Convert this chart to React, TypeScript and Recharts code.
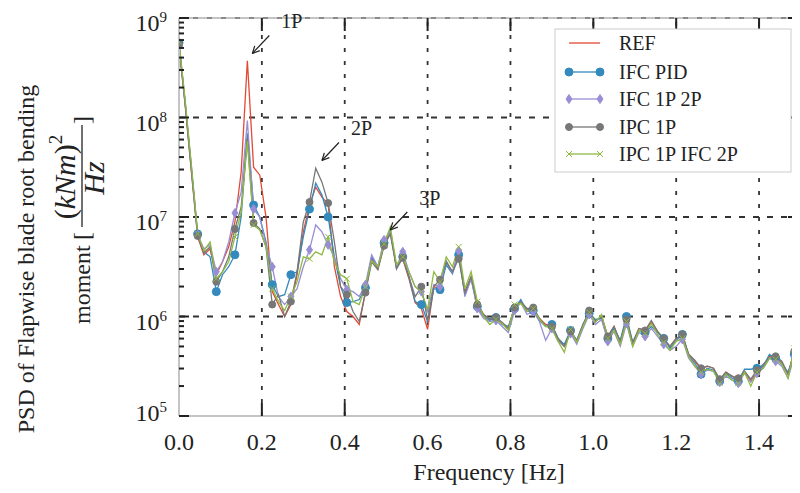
import { LineChart, Line, XAxis, YAxis, ReferenceLine, ReferenceDot } from 'recharts';

// frequency grid [Hz]
const freq = [
    0, 0.015, 0.03, 0.045, 0.06, 0.075, 0.09, 0.105, 0.12, 0.135,
    0.15, 0.165, 0.18, 0.195, 0.21, 0.225, 0.24, 0.255, 0.27, 0.285,
    0.3, 0.315, 0.33, 0.345, 0.36, 0.375, 0.39, 0.405, 0.42, 0.435,
    0.45, 0.465, 0.48, 0.495, 0.51, 0.525, 0.54, 0.555, 0.57, 0.585,
    0.6, 0.615, 0.63, 0.645, 0.66, 0.675, 0.69, 0.705, 0.72, 0.735,
    0.75, 0.765, 0.78, 0.795, 0.81, 0.825, 0.84, 0.855, 0.87, 0.885,
    0.9, 0.915, 0.93, 0.945, 0.96, 0.975, 0.99, 1.005, 1.02, 1.035,
    1.05, 1.065, 1.08, 1.095, 1.11, 1.125, 1.14, 1.155, 1.17, 1.185,
    1.2, 1.215, 1.23, 1.245, 1.26, 1.275, 1.29, 1.305, 1.32, 1.335,
    1.35, 1.365, 1.38, 1.395, 1.41, 1.425, 1.44, 1.455, 1.47, 1.485,
    1.5,
];

// PSD values, as log10 of (kNm)^2/Hz
const refLog = [
    8.72, 8.12, 7.45, 6.8, 6.62, 6.68, 6.42, 6.55, 6.7, 6.95,
    7.45, 8.57, 7.5, 7.42, 7.0, 6.25, 6.12, 6.0, 6.12, 6.42,
    6.85, 7.12, 7.3, 7.2, 7.13, 6.5, 6.2, 6.05, 6.0, 5.92,
    6.25, 6.58, 6.48, 6.72, 6.85, 6.5, 6.58, 6.38, 6.14, 6.08,
    5.87, 6.3, 6.28, 6.55, 6.45, 6.64, 6.25, 6.4, 6.14, 6.02,
    5.97, 5.98, 5.94, 5.88, 6.1, 6.15, 6.07, 6.08, 5.98, 5.92,
    5.9, 5.77, 5.7, 5.85, 5.75, 5.9, 6.05, 5.95, 6.0, 5.8,
    5.9, 5.74, 5.97, 5.72, 5.88, 5.86, 5.94, 5.85, 5.77, 5.7,
    5.78, 5.8, 5.62, 5.55, 5.47, 5.5, 5.48, 5.36, 5.44, 5.4,
    5.36, 5.45, 5.35, 5.45, 5.5, 5.6, 5.6, 5.54, 5.42, 5.66,
    5.55,
];
const ifcPidLog = [
    8.75, 8.15, 7.5, 6.83, 6.65, 6.6, 6.25, 6.42, 6.5, 6.62,
    7.0, 7.84, 7.12, 7.0, 6.75, 6.32, 6.2, 6.22, 6.42, 6.45,
    6.8, 7.08, 7.34, 7.22, 7.0, 6.6, 6.3, 6.14, 6.15, 6.17,
    6.29, 6.6, 6.5, 6.74, 6.88, 6.48, 6.6, 6.4, 6.15, 6.12,
    5.95, 6.28, 6.27, 6.52, 6.43, 6.62, 6.22, 6.38, 6.1, 6.0,
    5.96, 5.99, 5.92, 5.9, 6.08, 6.17, 6.05, 6.06, 5.96, 5.9,
    5.92, 5.78, 5.72, 5.86, 5.76, 5.92, 6.03, 5.97, 5.98, 5.78,
    5.88, 5.76, 6.0, 5.74, 5.86, 5.84, 5.9, 5.84, 5.78, 5.68,
    5.76, 5.82, 5.6, 5.53, 5.42, 5.48, 5.46, 5.35, 5.43, 5.38,
    5.35, 5.47, 5.47, 5.48, 5.5, 5.62, 5.58, 5.52, 5.44, 5.62,
    5.53,
];
const ifc1p2pLog = [
    8.74, 8.14, 7.48, 6.82, 6.68, 6.72, 6.45, 6.55, 6.75, 7.04,
    7.25, 7.97, 7.08, 7.0, 6.72, 6.5, 6.2, 6.12, 6.2, 6.28,
    6.5, 6.67, 6.92, 6.85, 6.72, 6.6, 6.38, 6.27, 6.25, 6.2,
    6.32, 6.62, 6.5, 6.77, 6.85, 6.5, 6.65, 6.45, 6.3, 6.25,
    6.05, 6.32, 6.3, 6.56, 6.44, 6.66, 6.2, 6.38, 6.08, 5.98,
    5.95, 5.96, 5.9, 5.84, 6.06, 6.14, 6.02, 6.05, 5.95, 5.76,
    5.88, 5.75, 5.7, 5.83, 5.72, 5.88, 6.02, 5.92, 5.97, 5.75,
    5.85, 5.7, 5.93, 5.7, 5.84, 5.8, 5.88, 5.8, 5.72, 5.66,
    5.7, 5.77, 5.58, 5.5, 5.42, 5.46, 5.45, 5.34, 5.4, 5.36,
    5.33, 5.43, 5.34, 5.43, 5.48, 5.58, 5.55, 5.5, 5.38, 5.6,
    5.5,
];
const ipc1pLog = [
    8.73, 8.13, 7.47, 6.81, 6.64, 6.7, 6.35, 6.45, 6.6, 6.88,
    7.1, 7.79, 6.94, 6.88, 6.7, 6.12, 6.22, 6.0, 6.15, 6.45,
    6.95, 7.15, 7.49, 7.35, 7.14, 6.75, 6.3, 6.22, 6.05, 5.95,
    6.24, 6.55, 6.47, 6.71, 6.83, 6.48, 6.59, 6.4, 6.2, 6.3,
    5.96, 6.3, 6.37, 6.55, 6.45, 6.58, 6.24, 6.4, 6.12, 6.02,
    5.98, 5.99, 5.94, 5.88, 6.09, 6.15, 6.08, 6.09, 5.98, 5.9,
    5.9, 5.78, 5.7, 5.85, 5.76, 5.92, 6.06, 5.95, 6.0, 5.8,
    5.9, 5.75, 5.97, 5.74, 5.88, 5.86, 5.96, 5.85, 5.78, 5.7,
    5.78, 5.82, 5.62, 5.56, 5.48, 5.5, 5.48, 5.37, 5.44, 5.4,
    5.38, 5.45, 5.37, 5.46, 5.52, 5.58, 5.6, 5.55, 5.42, 5.65,
    5.55,
];
const ipc1pIfc2pLog = [
    8.76, 8.17, 7.52, 6.83, 6.66, 6.75, 6.38, 6.45, 6.55, 6.8,
    7.05, 7.76, 6.92, 6.87, 6.7, 6.28, 6.15, 6.06, 6.2, 6.35,
    6.6, 6.58, 6.65, 6.62, 6.8, 6.55, 6.42, 6.38, 6.15, 6.12,
    6.3, 6.56, 6.5, 6.73, 6.9, 6.52, 6.6, 6.45, 6.3, 6.25,
    6.07, 6.45, 6.35, 6.6, 6.5, 6.7, 6.28, 6.45, 6.15, 6.0,
    5.92, 5.97, 5.93, 5.86, 6.12, 6.13, 6.05, 6.08, 5.97, 5.9,
    5.88, 5.75, 5.64, 5.87, 5.74, 5.9, 6.04, 5.94, 6.02, 5.78,
    5.86, 5.72, 5.95, 5.7, 5.86, 5.83, 5.93, 5.82, 5.74, 5.66,
    5.75, 5.78, 5.6, 5.5, 5.44, 5.47, 5.45, 5.33, 5.42, 5.36,
    5.33, 5.44, 5.3, 5.44, 5.48, 5.58, 5.57, 5.52, 5.38, 5.68,
    5.52,
];

const seriesKeys = ['ref', 'pid', 'p12', 'ipc', 'ipcifc'];
const seriesNames = ['REF', 'IFC PID', 'IFC 1P 2P', 'IPC 1P', 'IPC 1P IFC 2P'];
const seriesColors = ['#E24A33', '#348ABD', '#988ED5', '#777777', '#8EBA42'];
const seriesMarkers = ['none', 'circle', 'diamond', 'smallcircle', 'x'];

const xTicks = [0, 0.2, 0.4, 0.6, 0.8, 1.0, 1.2, 1.4];
const decades = [1e5, 1e6, 1e7, 1e8, 1e9];
const decadeExp = [5, 6, 7, 8, 9];
const minorSteps = [2, 3, 4, 5, 6, 7, 8, 9];

const peakLabels = ['1P', '2P', '3P'];
const peakFreq = [0.177, 0.345, 0.51];
const peakValue = [4.4e8, 3.7e7, 7.4e6];

const W = 792;
const H = 485;
const PLOT_LEFT = 171;
const PLOT_TOP = 10;
const PLOT_RIGHT = 790;
const PLOT_BOTTOM = 408;
const X_MAX = 1.494;
const FONT = "'Liberation Serif', 'DejaVu Serif', serif";
const INK = '#222222';

const yTicks = [
    ...decades,
    ...decades.slice(0, 4).flatMap((d) => minorSteps.map((m) => m * d)),
];

const chartData = freq.map((f, i) => ({
    f,
    ref: Math.pow(10, refLog[i]),
    pid: Math.pow(10, ifcPidLog[i]),
    p12: Math.pow(10, ifc1p2pLog[i]),
    ipc: Math.pow(10, ipc1pLog[i]),
    ipcifc: Math.pow(10, ipc1pIfc2pLog[i]),
}));

function Marker({ kind, x, y, color }: { kind: string; x: number; y: number; color: string }) {
    if (kind === 'circle') return <circle cx={x} cy={y} r={4} fill={color} stroke={color} />;
    if (kind === 'smallcircle') return <circle cx={x} cy={y} r={3.5} fill={color} stroke={color} />;
    if (kind === 'diamond')
        return (
            <polygon
                points={`${x},${y - 4.5} ${x + 3},${y} ${x},${y + 4.5} ${x - 3},${y}`}
                fill={color}
                stroke={color}
            />
        );
    if (kind === 'x')
        return (
            <g stroke={color} strokeWidth={1}>
                <line x1={x - 3} y1={y - 3} x2={x + 3} y2={y + 3} />
                <line x1={x - 3} y1={y + 3} x2={x + 3} y2={y - 3} />
            </g>
        );
    return null;
}

const makeDot = (kind: string, color: string, name: string) => (props: any) => {
    const { cx, cy, index } = props;
    if (kind === 'none' || index % 3 !== 0 || cx == null || cy == null) {
        return <g key={`${name}-${index}`} />;
    }
    return (
        <g key={`${name}-${index}`}>
            <Marker kind={kind} x={cx} y={cy} color={color} />
        </g>
    );
};

const XTick = (props: any) => {
    const { x, payload } = props;
    const v = payload.value;
    return (
        <g>
            {v > 0 && (
                <g stroke={INK} strokeWidth={2}>
                    <line x1={x} y1={PLOT_BOTTOM} x2={x} y2={PLOT_BOTTOM - 13} />
                    <line x1={x} y1={PLOT_TOP} x2={x} y2={PLOT_TOP + 13} />
                </g>
            )}
            <text x={x} y={442} textAnchor="middle" fontSize={24} fontFamily={FONT} fill={INK}>
                {v.toFixed(1)}
            </text>
        </g>
    );
};

const YTick = (props: any) => {
    const { y, payload } = props;
    const v = payload.value;
    const k = decades.findIndex((d) => Math.abs(d - v) / d < 1e-6);
    const major = k >= 0;
    const len = major ? 10 : 5;
    return (
        <g>
            <g stroke={INK} strokeWidth={2}>
                <line x1={PLOT_LEFT} y1={y} x2={PLOT_LEFT + len} y2={y} />
                <line x1={PLOT_RIGHT - len} y1={y} x2={PLOT_RIGHT} y2={y} />
            </g>
            {major && (
                <text
                    x={159}
                    y={y + (k === 0 ? 5 : 13)}
                    textAnchor="end"
                    fontSize={24}
                    fontFamily={FONT}
                    fill={INK}
                >
                    10
                    <tspan fontSize={15} dy={-9}>
                        {decadeExp[k]}
                    </tspan>
                </text>
            )}
        </g>
    );
};

const PeakArrow = ({ cx, cy, label }: { cx: number; cy: number; label: string }) => {
    const tx = cx + 17;
    const ty = cy - 18;
    const ang = Math.atan2(ty - cy, tx - cx);
    const head = 8;
    const spread = 0.45;
    return (
        <g>
            <g stroke={INK} strokeWidth={1.2} fill="none">
                <line x1={tx} y1={ty} x2={cx} y2={cy} />
                <line
                    x1={cx}
                    y1={cy}
                    x2={cx + head * Math.cos(ang + spread)}
                    y2={cy + head * Math.sin(ang + spread)}
                />
                <line
                    x1={cx}
                    y1={cy}
                    x2={cx + head * Math.cos(ang - spread)}
                    y2={cy + head * Math.sin(ang - spread)}
                />
            </g>
            <text x={cx + 29} y={cy - 25} fontSize={20} fontFamily={FONT} fill={INK}>
                {label}
            </text>
        </g>
    );
};

const legendRows = [35, 64, 91, 119, 146];

export default function App() {
    return (
        <div style={{ position: 'relative', width: W, height: H, fontFamily: FONT }}>
            <LineChart
                width={W}
                height={H}
                data={chartData}
                margin={{ top: PLOT_TOP, right: W - PLOT_RIGHT, left: 0, bottom: 0 }}
            >
                {/* grid */}
                {xTicks.slice(1).map((t) => (
                    <ReferenceLine
                        key={`gx${t}`}
                        x={t}
                        stroke="#333"
                        strokeWidth={1.8}
                        strokeDasharray="4 9"
                        ifOverflow="visible"
                    />
                ))}
                {decades.slice(1, 4).map((d) => (
                    <ReferenceLine
                        key={`gy${d}`}
                        y={d}
                        stroke="#333"
                        strokeWidth={1.8}
                        strokeDasharray="6 8"
                        ifOverflow="visible"
                    />
                ))}
                {/* frame */}
                <ReferenceLine y={1e9} stroke="#c4c4c4" strokeWidth={2} ifOverflow="visible" />
                <ReferenceLine x={X_MAX} stroke="#c4c4c4" strokeWidth={2} ifOverflow="visible" />
                <ReferenceLine y={1e9} stroke="#8a8a8a" strokeWidth={2} strokeDasharray="5 9" ifOverflow="visible" />
                <ReferenceLine y={1e5} stroke="#8a8a8a" strokeWidth={2} strokeDasharray="5 9" ifOverflow="visible" />

                <XAxis
                    dataKey="f"
                    type="number"
                    domain={[0, X_MAX]}
                    allowDataOverflow
                    ticks={xTicks}
                    interval={0}
                    height={H - PLOT_BOTTOM}
                    axisLine={{ stroke: '#c4c4c4', strokeWidth: 2 }}
                    tickLine={false}
                    tick={<XTick />}
                />
                <YAxis
                    type="number"
                    scale="log"
                    domain={[1e5, 1e9]}
                    allowDataOverflow
                    ticks={yTicks}
                    interval={0}
                    width={PLOT_LEFT}
                    axisLine={{ stroke: '#c4c4c4', strokeWidth: 2 }}
                    tickLine={false}
                    tick={<YTick />}
                />

                {seriesKeys.map((key, i) => (
                    <Line
                        key={key}
                        dataKey={key}
                        name={seriesNames[i]}
                        type="linear"
                        stroke={seriesColors[i]}
                        strokeWidth={1.3}
                        dot={makeDot(seriesMarkers[i], seriesColors[i], key)}
                        activeDot={false}
                        isAnimationActive={false}
                    />
                ))}

                {peakLabels.map((lab, i) => (
                    <ReferenceDot
                        key={lab}
                        x={peakFreq[i]}
                        y={peakValue[i]}
                        r={0}
                        ifOverflow="visible"
                        shape={(p: any) => <PeakArrow cx={p.cx} cy={p.cy} label={lab} />}
                    />
                ))}
            </LineChart>

            {/* axis titles and legend */}
            <svg
                width={W}
                height={H}
                style={{ position: 'absolute', left: 0, top: 0, pointerEvents: 'none' }}
            >
                <text
                    transform="translate(26,251) rotate(-90)"
                    textAnchor="middle"
                    fontSize={24}
                    fontFamily={FONT}
                    fill={INK}
                >
                    PSD of Flapwise blade root bending
                </text>
                <text transform="translate(82,316) rotate(-90)" fontSize={24} fontFamily={FONT} fill={INK}>
                    moment
                </text>
                <text
                    transform="translate(82,228) rotate(-90)"
                    textAnchor="middle"
                    fontSize={24}
                    fontFamily={FONT}
                    fill={INK}
                >
                    [
                </text>
                <text
                    transform="translate(67,169) rotate(-90)"
                    textAnchor="middle"
                    fontSize={30}
                    fontFamily={FONT}
                    fill={INK}
                >
                    (<tspan fontStyle="italic">kNm</tspan>)
                    <tspan fontSize={19} dy={-13}>
                        2
                    </tspan>
                </text>
                <line x1={74} y1={117} x2={74} y2={219} stroke={INK} strokeWidth={1.3} />
                <text
                    transform="translate(96,170) rotate(-90)"
                    textAnchor="middle"
                    fontSize={30}
                    fontStyle="italic"
                    fontFamily={FONT}
                    fill={INK}
                >
                    Hz
                </text>
                <text
                    transform="translate(82,112) rotate(-90)"
                    textAnchor="middle"
                    fontSize={24}
                    fontFamily={FONT}
                    fill={INK}
                >
                    ]
                </text>
                <text x={481} y={472} textAnchor="middle" fontSize={24} fontFamily={FONT} fill={INK}>
                    Frequency [Hz]
                </text>

                <rect x={547} y={21} width={236} height={143} fill="#ffffff" stroke="#cccccc" strokeWidth={1} />
                {seriesNames.map((name, i) => (
                    <g key={name}>
                        <line
                            x1={561}
                            y1={legendRows[i]}
                            x2={592}
                            y2={legendRows[i]}
                            stroke={seriesColors[i]}
                            strokeWidth={1.3}
                        />
                        <Marker kind={seriesMarkers[i]} x={561} y={legendRows[i]} color={seriesColors[i]} />
                        <Marker kind={seriesMarkers[i]} x={592} y={legendRows[i]} color={seriesColors[i]} />
                        <text x={611} y={legendRows[i] + 7} fontSize={20} fontFamily={FONT} fill={INK}>
                            {name}
                        </text>
                    </g>
                ))}
            </svg>
        </div>
    );
}
